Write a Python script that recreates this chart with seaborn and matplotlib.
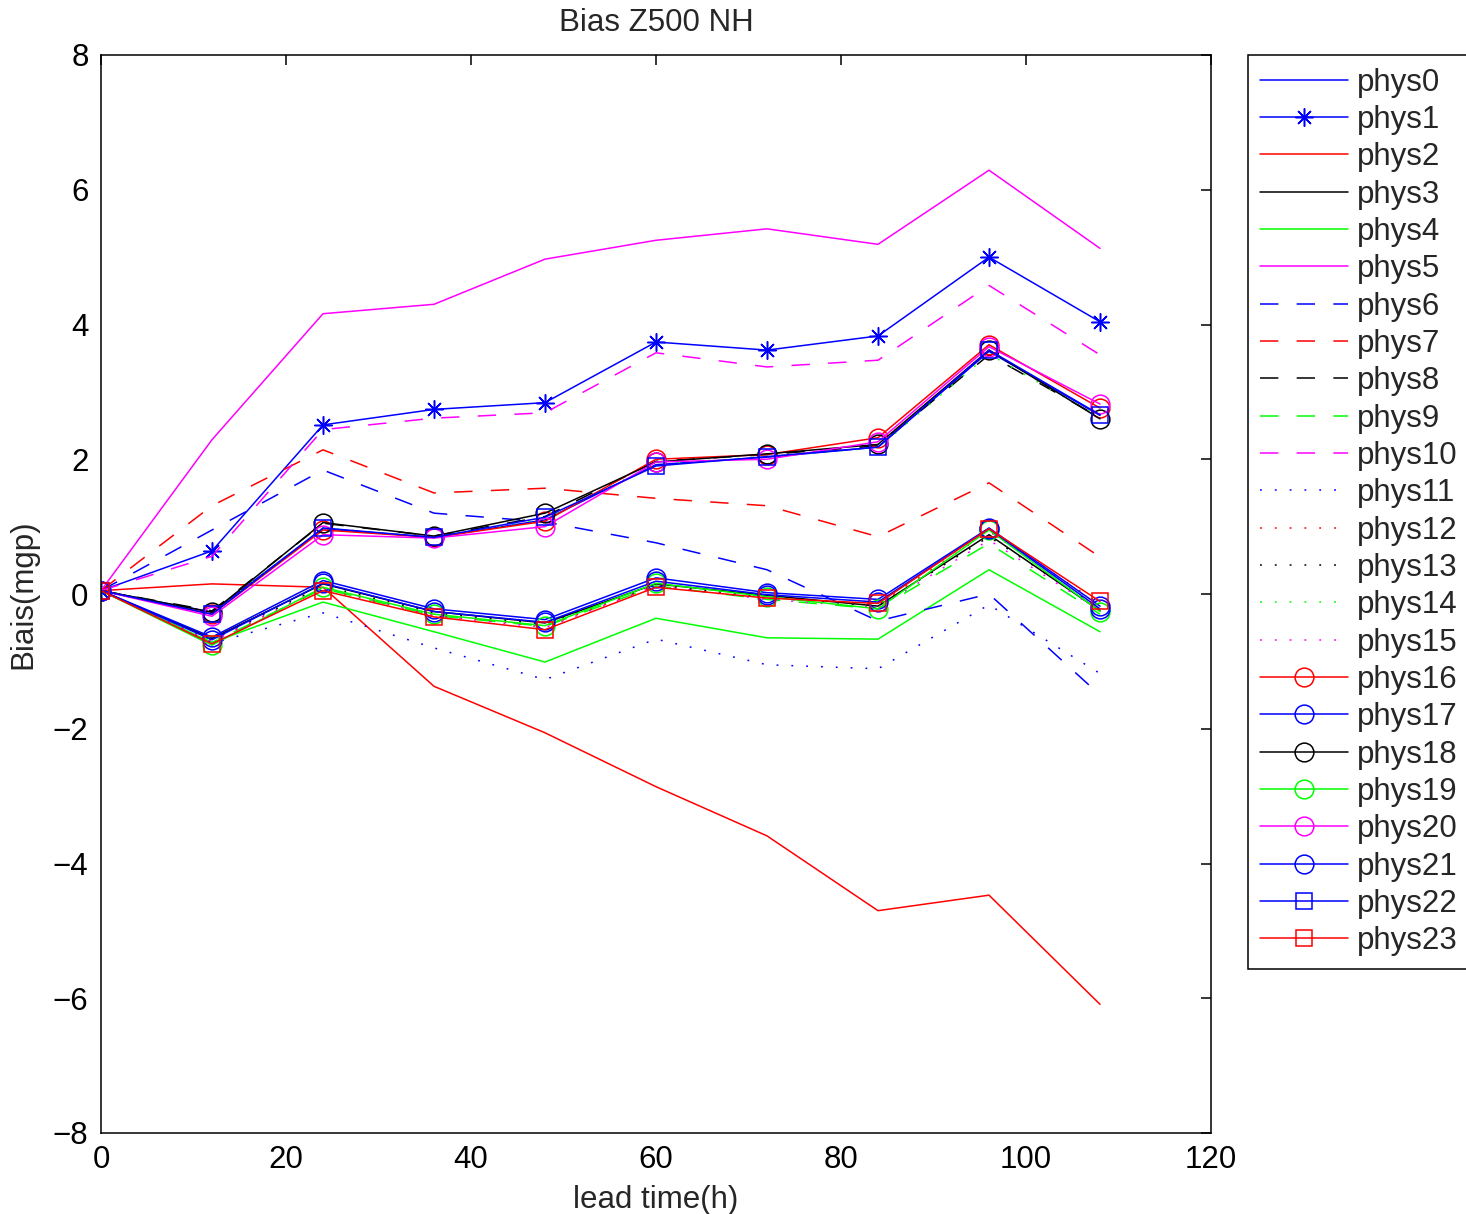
import numpy as np
import pandas as pd
import matplotlib
matplotlib.use("Agg")
import matplotlib.pyplot as plt
import seaborn as sns

# ---------------- data ----------------
lead_time = [0, 12, 24, 36, 48, 60, 72, 84, 96, 108]
run_names = ["phys%d" % i for i in range(24)]

phys0 = [0.05, -0.27, 0.97, 0.84, 1.10, 1.92, 2.03, 2.18, 3.60, 2.65]
phys1 = [0.05, 0.64, 2.51, 2.74, 2.84, 3.74, 3.62, 3.83, 5.00, 4.04]
phys2 = [0.05, 0.15, 0.10, -1.37, -2.06, -2.86, -3.59, -4.70, -4.47, -6.09]
phys3 = [0.05, -0.66, 0.15, -0.26, -0.43, 0.15, -0.02, -0.18, 0.88, -0.25]
phys4 = [0.05, -0.72, -0.12, -0.56, -1.01, -0.36, -0.65, -0.67, 0.36, -0.56]
phys5 = [0.05, 2.29, 4.16, 4.30, 4.97, 5.25, 5.42, 5.19, 6.29, 5.13]
phys6 = [0.05, 0.95, 1.84, 1.20, 1.07, 0.76, 0.36, -0.40, 0.00, -1.50]
phys7 = [0.05, 1.31, 2.14, 1.50, 1.57, 1.42, 1.31, 0.85, 1.65, 0.55]
phys8 = [0.05, -0.25, 1.05, 0.86, 1.15, 1.97, 2.07, 2.20, 3.55, 2.62]
phys9 = [0.05, -0.72, 0.08, -0.32, -0.48, 0.12, -0.08, -0.22, 0.75, -0.30]
phys10 = [0.05, 0.56, 2.44, 2.61, 2.69, 3.58, 3.37, 3.47, 4.58, 3.55]
phys11 = [0.05, -0.73, -0.28, -0.80, -1.27, -0.67, -1.05, -1.11, -0.16, -1.18]
phys12 = [0.05, -0.70, 0.08, -0.32, -0.48, 0.12, -0.06, -0.16, 0.93, -0.15]
phys13 = [0.05, -0.68, 0.12, -0.28, -0.45, 0.14, -0.05, -0.18, 0.85, -0.22]
phys14 = [0.05, -0.27, 0.98, 0.84, 1.12, 1.93, 2.04, 2.17, 3.56, 2.62]
phys15 = [0.05, -0.70, 0.10, -0.32, -0.50, 0.12, -0.08, -0.20, 0.80, -0.25]
phys16 = [0.05, -0.30, 0.95, 0.84, 1.08, 2.00, 2.07, 2.32, 3.70, 2.76]
phys17 = [0.05, -0.64, 0.20, -0.22, -0.38, 0.24, 0.02, -0.08, 0.98, -0.18]
phys18 = [0.05, -0.27, 1.06, 0.86, 1.20, 1.96, 2.08, 2.22, 3.62, 2.60]
phys19 = [0.05, -0.76, 0.10, -0.30, -0.47, 0.16, -0.04, -0.22, 0.95, -0.26]
phys20 = [0.05, -0.33, 0.88, 0.83, 1.00, 1.96, 2.00, 2.26, 3.67, 2.82]
phys21 = [0.05, -0.68, 0.16, -0.26, -0.42, 0.19, -0.01, -0.12, 0.97, -0.22]
phys22 = [0.05, -0.30, 0.98, 0.84, 1.14, 1.90, 2.04, 2.18, 3.62, 2.66]
phys23 = [0.05, -0.74, 0.05, -0.34, -0.53, 0.10, -0.06, -0.14, 0.97, -0.11]

series = [phys0, phys1, phys2, phys3, phys4, phys5, phys6, phys7, phys8, phys9,
          phys10, phys11, phys12, phys13, phys14, phys15, phys16, phys17, phys18,
          phys19, phys20, phys21, phys22, phys23]

x_ticks = [0, 20, 40, 60, 80, 100, 120]
y_ticks = [-8, -6, -4, -2, 0, 2, 4, 6, 8]

# ---------------- styles ----------------
B, R, K, G, M = (0, 0, 1), (1, 0, 0), (0, 0, 0), (0, 1, 0), (1, 0, 1)
colors = [B, B, R, K, G, M, B, R, K, G, M, B, R, K, G, M, R, B, K, G, M, B, B, R]
SOLID = "-"
DASH = (0, (12, 12))
DOT = (0, (1.2, 8.5))
styles = [SOLID] * 6 + [DASH] * 5 + [DOT] * 5 + [SOLID] * 8
markers = ["None", (8, 2, 0)] + ["None"] * 14 + ["o"] * 6 + ["s", "s"]
msizes = [0, 13] + [0] * 14 + [13.5] * 6 + [11, 11]

df = pd.DataFrame({
    "lead": np.tile(lead_time, len(run_names)),
    "bias": np.concatenate(series),
    "run": np.repeat(run_names, len(lead_time)),
})

FS = 22.5
sns.set_style("white")
plt.rcParams["font.family"] = ["Liberation Sans", "DejaVu Sans"]
plt.rcParams["font.size"] = FS

fig = plt.figure(figsize=(14.66, 12.14), dpi=100)
ax = fig.add_axes([101 / 1466, 1 - 1133 / 1214, 1110 / 1466, 1078 / 1214])

for i, name in enumerate(run_names):
    sub = df[df["run"] == name]
    kw = dict(color=colors[i], linestyle=styles[i], linewidth=1.1, label=name)
    if markers[i] != "None":
        kw.update(marker=markers[i], markersize=msizes[i], markerfacecolor="none",
                  markeredgecolor=colors[i], markeredgewidth=1.1)
    sns.lineplot(data=sub, x="lead", y="bias", ax=ax, sort=False,
                 errorbar=None, legend=False, **kw)

ax.set_xlim(0, 120)
ax.set_ylim(-8, 8)
ax.set_xticks(x_ticks)
ax.set_yticks(y_ticks)
ax.tick_params(direction="in", length=7, width=1.1, top=True, right=True,
               labelsize=FS, pad=9, colors="black")
for sp in ax.spines.values():
    sp.set_visible(True)
    sp.set_color("black")
    sp.set_linewidth(1.1)
ax.set_title("Bias Z500 NH", fontsize=FS, pad=17)
ax.set_xlabel("lead time(h)", fontsize=FS, labelpad=7)
ax.set_ylabel("Biais(mgp)", fontsize=FS, labelpad=10)

handles, labels = ax.get_legend_handles_labels()
leg = ax.legend(handles, labels, loc="upper left", bbox_to_anchor=(1.0333, 1.0),
                borderaxespad=0, frameon=True, fancybox=False, edgecolor="black",
                framealpha=1, fontsize=FS, handlelength=2.8, handletextpad=0.28,
                labelspacing=0.235, borderpad=0.4, numpoints=1)
leg.get_frame().set_linewidth(1.1)

fig.savefig("out.png", dpi=100)
